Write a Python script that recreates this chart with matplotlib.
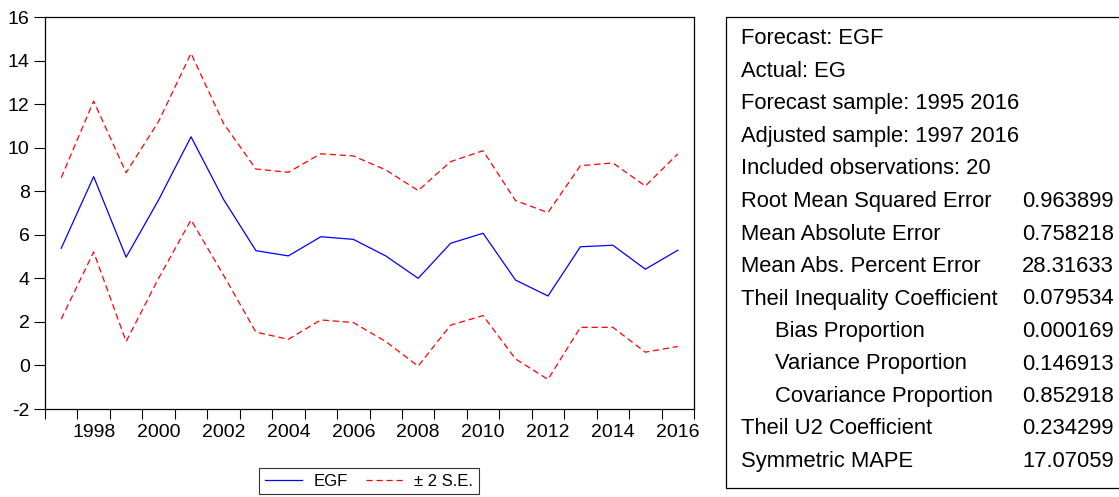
import matplotlib.pyplot as plt
import matplotlib.patches as patches
import numpy as np

plt.rcParams['font.family'] = ['Liberation Sans', 'DejaVu Sans']

# forecast EGF with +/- 2 S.E. band, 1997-2016
years = list(range(1997, 2017))
egf = [5.38, 8.67, 4.97, 7.60, 10.50, 7.63, 5.27, 5.03, 5.91, 5.79,
       5.03, 4.00, 5.61, 6.07, 3.92, 3.19, 5.45, 5.52, 4.42, 5.29]
upper = [8.62, 12.14, 8.85, 11.20, 14.33, 11.12, 9.02, 8.87, 9.72, 9.62,
         8.98, 8.03, 9.36, 9.86, 7.57, 7.02, 9.17, 9.30, 8.24, 9.71]
lower = [2.13, 5.21, 1.10, 4.00, 6.68, 4.15, 1.53, 1.20, 2.09, 1.97,
         1.10, -0.03, 1.85, 2.29, 0.30, -0.64, 1.75, 1.75, 0.61, 0.87]

yticks = [-2, 0, 2, 4, 6, 8, 10, 12, 14, 16]
xlabels = list(range(1998, 2017, 2))

# statistics table on the right
stat_names = ["Forecast: EGF", "Actual: EG", "Forecast sample: 1995 2016",
              "Adjusted sample: 1997 2016", "Included observations: 20",
              "Root Mean Squared Error", "Mean Absolute Error",
              "Mean Abs. Percent Error", "Theil Inequality Coefficient",
              "Bias Proportion", "Variance Proportion", "Covariance Proportion",
              "Theil U2 Coefficient", "Symmetric MAPE"]
stat_values = ["", "", "", "", "", "0.963899", "0.758218", "28.31633",
               "0.079534", "0.000169", "0.146913", "0.852918", "0.234299",
               "17.07059"]
stat_indent = [0, 0, 0, 0, 0, 0, 0, 0, 0, 1, 1, 1, 0, 0]

W, H = 1119, 497
fig = plt.figure(figsize=(W / 100, H / 100), dpi=100)

def px(x0, y0, x1, y1):
    return [x0 / W, 1 - y1 / H, (x1 - x0) / W, (y1 - y0) / H]

ax = fig.add_axes(px(45, 17, 694, 409))
ax.plot(years, egf, color='blue', lw=0.9, label='EGF')
ax.plot(years, upper, color='red', lw=0.9, dashes=(5, 3), label='± 2 S.E.')
ax.plot(years, lower, color='red', lw=0.9, dashes=(5, 3))

ax.set_xlim(1996.5, 2016.5)
ax.set_ylim(-2, 16)
ax.set_yticks(yticks)
ax.set_yticklabels([str(v) for v in yticks])
ax.set_xticks(np.arange(1996.5, 2017, 1))
ax.set_xticklabels([])
ax.set_xticks(xlabels, minor=True)
ax.set_xticklabels([str(v) for v in xlabels], minor=True)
ax.tick_params(axis='x', which='major', direction='out', length=7, width=0.8)
ax.tick_params(axis='x', which='minor', length=0, pad=11, labelsize=14)
ax.tick_params(axis='y', direction='out', length=8, width=0.8, pad=3, labelsize=14)
for s in ax.spines.values():
    s.set_linewidth(0.9)
    s.set_color('black')

leg = ax.legend(loc='center', bbox_to_anchor=(369 / W, 1 - 481 / H),
                bbox_transform=fig.transFigure, ncol=2, fontsize=12, frameon=True,
                fancybox=False, edgecolor='black', handlelength=2.2,
                handletextpad=0.7, columnspacing=1.1, borderpad=0.35)
leg.get_frame().set_linewidth(0.8)

# table box
box = patches.Rectangle((726 / W, 1 - 488 / H), (W + 10 - 726) / W, 471 / H,
                        transform=fig.transFigure, fill=False, edgecolor='black',
                        lw=0.9, clip_on=False)
fig.patches.append(box)
for i in range(len(stat_names)):
    y = 1 - (39 + 32.5 * i) / H
    x = (741 + 34 * stat_indent[i]) / W
    fig.text(x, y, stat_names[i], fontsize=15.8, va='center', ha='left')
    if stat_values[i]:
        fig.text(1022 / W, y, stat_values[i], fontsize=15.8, va='center', ha='left')

fig.savefig('out.png', dpi=100)
